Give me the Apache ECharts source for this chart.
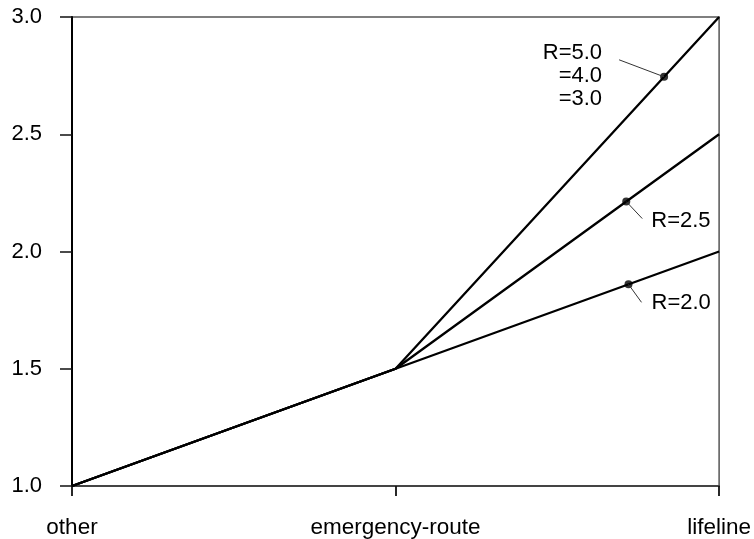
<!DOCTYPE html>
<html>
<head>
<meta charset="utf-8">
<script src="https://cdn.jsdelivr.net/npm/echarts@6/dist/echarts.min.js"></script>
<style>html,body{margin:0;padding:0;background:#fff}#c{width:754px;height:539px}</style>
</head>
<body>
<div id="c"></div>
<script>
const categories = ['other', 'emergency-route', 'lifeline'];
const yTicks = [1.0, 1.5, 2.0, 2.5, 3.0];
const seriesR50 = [1.0, 1.5, 3.0];
const seriesR25 = [1.0, 1.5, 2.5];
const seriesR20 = [1.0, 1.5, 2.0];
const markerX = [1.83, 1.713, 1.72];
const markerY = [2.745, 2.213, 1.86];
const markerLabels = ['R=5.0\n=4.0\n=3.0', 'R=2.5', 'R=2.0'];

const toPts = arr => arr.map((v, i) => [i, v]);
const FONT = "'Liberation Sans', Arial, sans-serif";

const chart = echarts.init(document.getElementById('c'), null, {renderer: 'canvas'});
const lineStyle = {color: '#000', width: 2.3};
const option = {
  backgroundColor: '#fff',
  animation: false,
  grid: {left: 72, right: 33, top: 17, bottom: 52, show: true, borderColor: '#555', borderWidth: 1.5},
  xAxis: {
    type: 'value', min: 0, max: categories.length - 1, interval: 1,
    axisLine: {show: true, lineStyle: {color: '#444', width: 2}},
    axisTick: {show: true, length: 10, lineStyle: {color: '#111', width: 1.8}},
    axisLabel: {
      margin: 30, color: '#000', fontSize: 22.5, fontFamily: FONT,
      formatter: v => categories[Math.round(v)] || ''
    },
    splitLine: {show: false}
  },
  yAxis: {
    type: 'value', min: yTicks[0], max: yTicks[yTicks.length - 1], interval: 0.5,
    axisLine: {show: true, lineStyle: {color: '#000', width: 2}},
    axisTick: {show: true, length: 12, lineStyle: {color: '#111', width: 1.5}},
    axisLabel: {
      margin: 30, color: '#000', fontSize: 22, fontFamily: FONT,
      formatter: v => v.toFixed(1)
    },
    splitLine: {show: false}
  },
  series: [
    {type: 'line', data: toPts(seriesR50), symbol: 'none', lineStyle},
    {type: 'line', data: toPts(seriesR25), symbol: 'none', lineStyle},
    {type: 'line', data: toPts(seriesR20), symbol: 'none', lineStyle},
    {type: 'scatter', data: markerX.map((x, i) => [x, markerY[i]]), symbol: 'circle', symbolSize: 8,
     itemStyle: {color: '#000'}, z: 5}
  ]
};
chart.setOption(option);

// annotations positioned relative to the markers (converted through the chart's scales)
const p = markerX.map((x, i) => chart.convertToPixel({seriesIndex: 3}, [x, markerY[i]]));
const leader = [[-45, -17], [16, 17], [13, 18]];
const textStyle = {fill: '#000', fontSize: 22, fontFamily: FONT};
const graphics = [];
leader.forEach((d, i) => {
  graphics.push({
    type: 'line', z: 10,
    shape: {x1: p[i][0], y1: p[i][1], x2: p[i][0] + d[0], y2: p[i][1] + d[1]},
    style: {stroke: '#333', lineWidth: 1}
  });
});
graphics.push({
  type: 'text', z: 10, x: p[0][0] - 62, y: p[0][1] - 35,
  style: Object.assign({text: markerLabels[0], align: 'right', verticalAlign: 'top', lineHeight: 23}, textStyle)
});
graphics.push({
  type: 'text', z: 10, x: p[1][0] + 25, y: p[1][1] + 19,
  style: Object.assign({text: markerLabels[1], align: 'left', verticalAlign: 'middle'}, textStyle)
});
graphics.push({
  type: 'text', z: 10, x: p[2][0] + 23, y: p[2][1] + 19,
  style: Object.assign({text: markerLabels[2], align: 'left', verticalAlign: 'middle'}, textStyle)
});
chart.setOption({graphic: graphics});
</script>
</body>
</html>
